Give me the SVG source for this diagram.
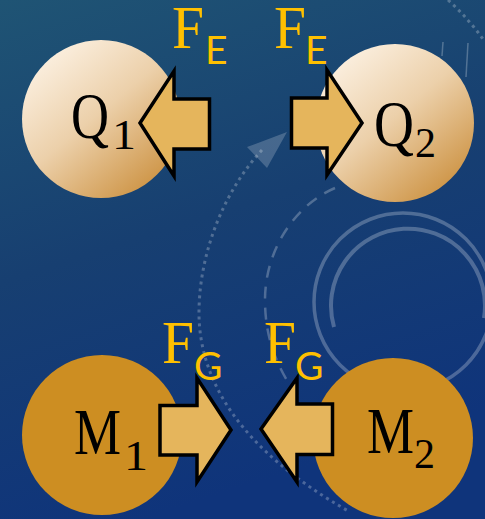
<svg xmlns="http://www.w3.org/2000/svg" width="485" height="519" viewBox="0 0 485 519">
<defs>
<linearGradient id="bg" x1="0" y1="0" x2="0.3" y2="1">
<stop offset="0" stop-color="#1f5474"/>
<stop offset="0.5" stop-color="#173f71"/>
<stop offset="1" stop-color="#0f347b"/>
</linearGradient>
<linearGradient id="qfill" x1="0.15" y1="0.1" x2="0.85" y2="0.95">
<stop offset="0" stop-color="#fbefdf"/>
<stop offset="0.45" stop-color="#ecd0aa"/>
<stop offset="1" stop-color="#cc9140"/>
</linearGradient>
<style>
.deco{fill:none;stroke:#ffffff;stroke-opacity:0.25}
.q{fill:url(#qfill)}
.m{fill:#cd8e22}
.arrow{fill:#e5b55c;stroke:#000;stroke-width:3.5;stroke-linejoin:miter}
.main{font-family:"Liberation Serif","Times New Roman",serif;font-size:65px;fill:#000}
.sub{font-family:"Liberation Serif","Times New Roman",serif;font-size:42px;fill:#000}
.lf{font-family:"Liberation Serif","Times New Roman",serif;font-size:62px;fill:#ffc000}
.ls{font-family:Lato,"Liberation Sans",sans-serif;font-size:39px;fill:#ffc000}
</style>
</defs>
<g id="background">
<rect width="485" height="519" fill="url(#bg)"/>
<path class="deco" stroke-width="3" stroke-dasharray="3 4" d="M 262 150 C 225 190, 200 250, 199 310 C 198 380, 240 450, 350 512"/>
<polygon points="247,147 287,132 267,168" fill="#ffffff" fill-opacity="0.2"/>
<path class="deco" stroke-width="2.5" stroke-dasharray="12 9" d="M 335 188 C 295 205, 265 250, 265 300 C 265 340, 278 370, 300 400"/>
<path class="deco" stroke-width="3" stroke-dasharray="3 4" d="M 448 0 Q 470 20 485 42"/>
<circle class="deco" stroke-width="3.5" cx="403" cy="302" r="89"/>
<path class="deco" stroke-width="4" d="M 334 327 A 77 77 0 1 1 484 318"/>
<line class="deco" stroke-width="1.5" x1="443" y1="42" x2="442" y2="56"/>
<line class="deco" stroke-width="1.5" x1="468" y1="43" x2="466" y2="77"/>
</g>
<g id="q1">
<circle class="q" cx="101" cy="119" r="79"/>
<text class="main" x="71" y="138" textLength="38" lengthAdjust="spacingAndGlyphs">Q</text>
<text class="sub" x="112" y="149" textLength="24" lengthAdjust="spacingAndGlyphs">1</text>
</g>
<g id="q2">
<circle class="q" cx="395" cy="123" r="79"/>
<text class="main" x="374" y="146" textLength="40" lengthAdjust="spacingAndGlyphs">Q</text>
<text class="sub" x="415" y="157">2</text>
</g>
<g id="m1">
<circle class="m" cx="102" cy="435" r="80"/>
<text class="main" x="74" y="454" textLength="47" lengthAdjust="spacingAndGlyphs">M</text>
<text class="sub" x="124" y="470" textLength="24" lengthAdjust="spacingAndGlyphs">1</text>
</g>
<g id="m2">
<circle class="m" cx="393" cy="438" r="80"/>
<text class="main" x="367" y="453" textLength="47" lengthAdjust="spacingAndGlyphs">M</text>
<text class="sub" x="414" y="468">2</text>
</g>
<g id="connectors">
<g id="fe1">
<polygon class="arrow" points="140,123 174,71 174,99 209.5,99 209.5,149 174,149 174,176"/>
<text class="lf" x="172" y="48" textLength="32" lengthAdjust="spacingAndGlyphs">F</text>
<text class="ls" x="205" y="63.5">E</text>
</g>
<g id="fe2">
<polygon class="arrow" points="362,123 327,70 327,98 291.5,98 291.5,148 327,148 327,175"/>
<text class="lf" x="274" y="48" textLength="32" lengthAdjust="spacingAndGlyphs">F</text>
<text class="ls" x="305" y="64">E</text>
</g>
<g id="fg1">
<polygon class="arrow" points="231,430 197,378 197,405.5 160,405.5 160,455 197,455 197,482"/>
<text class="lf" x="162" y="363" textLength="32" lengthAdjust="spacingAndGlyphs">F</text>
<text class="ls" x="194" y="380">G</text>
</g>
<g id="fg2">
<polygon class="arrow" points="261,429 297,378 297,404 332.5,404 332.5,454.5 297,454.5 297,482"/>
<text class="lf" x="264" y="363" textLength="32" lengthAdjust="spacingAndGlyphs">F</text>
<text class="ls" x="295" y="380">G</text>
</g>
</g>
</svg>
